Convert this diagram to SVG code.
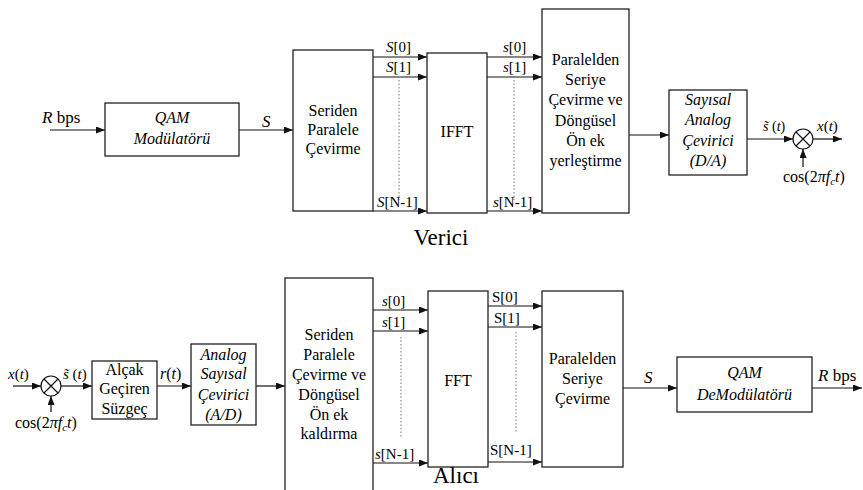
<svg xmlns="http://www.w3.org/2000/svg" width="863" height="490" viewBox="0 0 863 490">
<style>
text, tspan{font-family:"Liberation Serif", "Times New Roman", Times, "DejaVu Serif", serif}
text{fill:#000}
.bx{fill:#fff;stroke:#222;stroke-width:1.3}
.t{font-size:16px;text-anchor:middle}
.i{font-style:italic}
.lb{font-size:15px}
.ar{stroke:#111;stroke-width:1.2;fill:none;marker-end:url(#ah)}
.dt{stroke:#777;stroke-width:1;stroke-dasharray:1.5 2;fill:none}
.big{font-size:23px}
</style>
<defs>
<marker id="ah" markerUnits="userSpaceOnUse" markerWidth="9" markerHeight="7" refX="9" refY="3.5" orient="auto">
<path d="M0,0 L9,3.5 L0,7 z" fill="#111"/>
</marker>
</defs>

<g id="connectors">
<line class="ar" x1="50" y1="130" x2="105" y2="130"/>
<line class="ar" x1="239" y1="130" x2="293" y2="130"/>
<line class="ar" x1="373" y1="57" x2="427" y2="57"/>
<line class="ar" x1="373" y1="77" x2="427" y2="77"/>
<line class="ar" x1="373" y1="211" x2="427" y2="211"/>
<line class="dt" x1="399" y1="80" x2="399" y2="200"/>
<line class="ar" x1="487" y1="57" x2="542" y2="57"/>
<line class="ar" x1="487" y1="77" x2="542" y2="77"/>
<line class="ar" x1="487" y1="211" x2="542" y2="211"/>
<line class="dt" x1="514" y1="80" x2="514" y2="200"/>
<line class="ar" x1="629" y1="135" x2="669" y2="135"/>
<line class="ar" x1="747" y1="139" x2="793" y2="139"/>
<line class="ar" x1="813" y1="139" x2="842" y2="139"/>
<line class="ar" x1="803" y1="167" x2="803" y2="149"/>
<line class="ar" x1="13" y1="386" x2="41" y2="386"/>
<line class="ar" x1="51" y1="412" x2="51" y2="396"/>
<line class="ar" x1="61" y1="386" x2="92" y2="386"/>
<line class="ar" x1="157" y1="386" x2="191" y2="386"/>
<line class="ar" x1="256" y1="386" x2="285" y2="386"/>
<line class="ar" x1="373" y1="310" x2="428" y2="310"/>
<line class="ar" x1="373" y1="331" x2="428" y2="331"/>
<line class="ar" x1="373" y1="463" x2="428" y2="463"/>
<line class="dt" x1="401" y1="337" x2="401" y2="437"/>
<line class="ar" x1="488" y1="306" x2="542" y2="306"/>
<line class="ar" x1="488" y1="327" x2="542" y2="327"/>
<line class="ar" x1="488" y1="462" x2="542" y2="462"/>
<line class="dt" x1="516" y1="332" x2="516" y2="432"/>
<line class="ar" x1="623" y1="388" x2="677" y2="388"/>
<line class="ar" x1="812" y1="388" x2="862" y2="388"/>
</g>

<g id="labels">
<text x="42" y="123" font-size="17"><tspan class="i">R</tspan> bps</text>
<text x="262" y="127" font-size="17" class="i">S</text>
<text x="386" y="52" class="lb"><tspan class="i">S</tspan>[0]</text>
<text x="386" y="72" class="lb"><tspan class="i">S</tspan>[1]</text>
<text x="377" y="207" class="lb"><tspan class="i">S</tspan>[N-1]</text>
<text x="503" y="52" class="lb"><tspan class="i">s</tspan>[0]</text>
<text x="503" y="72" class="lb"><tspan class="i">s</tspan>[1]</text>
<text x="493" y="207" class="lb"><tspan class="i">s</tspan>[N-1]</text>
<text x="763" y="131" font-size="14"><tspan class="i">s̃</tspan> (<tspan class="i">t</tspan>)</text>
<text x="817" y="131" font-size="15"><tspan class="i">x</tspan>(<tspan class="i">t</tspan>)</text>
<text x="783" y="182" font-size="16">cos(2<tspan class="i">πf</tspan><tspan class="i" font-size="11" dy="3">c</tspan><tspan class="i" dy="-3">t</tspan>)</text>
<text x="441" y="245" class="big" text-anchor="middle">Verici</text>
<text x="8" y="379" font-size="15"><tspan class="i">x</tspan>(<tspan class="i">t</tspan>)</text>
<text x="63" y="379" font-size="15"><tspan class="i">s̃</tspan> (<tspan class="i">t</tspan>)</text>
<text x="15" y="428" font-size="16">cos(2<tspan class="i">πf</tspan><tspan class="i" font-size="11" dy="3">c</tspan><tspan class="i" dy="-3">t</tspan>)</text>
<text x="160" y="379" font-size="16"><tspan class="i">r</tspan>(<tspan class="i">t</tspan>)</text>
<text x="382" y="306" class="lb"><tspan class="i">s</tspan>[0]</text>
<text x="382" y="327" class="lb"><tspan class="i">s</tspan>[1]</text>
<text x="375" y="459" class="lb"><tspan class="i">s</tspan>[N-1]</text>
<text x="492" y="302" class="lb">S[0]</text>
<text x="494" y="323" class="lb">S[1]</text>
<text x="490" y="455" class="lb">S[N-1]</text>
<text x="644" y="383" font-size="17" class="i">S</text>
<text x="818" y="381" font-size="17"><tspan class="i">R</tspan> bps</text>
<text x="456" y="483" class="big" text-anchor="middle">Alıcı</text>
</g>

<g id="qam-mod">
<rect class="bx" x="105" y="103" width="134" height="53"/>
<text class="t i" x="172" y="123">QAM</text>
<text class="t i" x="172" y="144">Modülatörü</text>
</g>
<g id="sp-tx">
<rect class="bx" x="293" y="50" width="80" height="161"/>
<text class="t" x="333" y="116">Seriden</text>
<text class="t" x="333" y="135">Paralele</text>
<text class="t" x="333" y="154">Çevirme</text>
</g>
<g id="ifft">
<rect class="bx" x="427" y="53" width="60" height="160"/>
<text class="t" x="457" y="137">IFFT</text>
</g>
<g id="ps-tx">
<rect class="bx" x="542" y="9" width="87" height="204"/>
<text class="t" x="585.5" y="65">Paralelden</text>
<text class="t" x="585.5" y="85">Seriye</text>
<text class="t" x="585.5" y="105">Çevirme ve</text>
<text class="t" x="585.5" y="125.5">Döngüsel</text>
<text class="t" x="585.5" y="146">Ön ek</text>
<text class="t" x="585.5" y="166">yerleştirme</text>
</g>
<g id="dac">
<rect class="bx" x="669" y="90" width="78" height="85"/>
<text class="t i" x="708" y="104.5">Sayısal</text>
<text class="t i" x="708" y="125">Analog</text>
<text class="t i" x="708" y="145.5">Çevirici</text>
<text class="t i" x="708" y="166">(D/A)</text>
</g>
<g id="mixer-tx">
<circle cx="803" cy="139" r="10" fill="#fff" stroke="#111" stroke-width="1.2"/>
<path d="M796,132 L810,146 M810,132 L796,146" stroke="#111" stroke-width="1.2"/>
</g>
<g id="mixer-rx">
<circle cx="51" cy="386" r="10" fill="#fff" stroke="#111" stroke-width="1.2"/>
<path d="M44,379 L58,393 M58,379 L44,393" stroke="#111" stroke-width="1.2"/>
</g>
<g id="lpf">
<rect class="bx" x="92" y="361" width="65" height="58"/>
<text class="t" x="124.5" y="375">Alçak</text>
<text class="t" x="124.5" y="394">Geçiren</text>
<text class="t" x="124.5" y="414">Süzgeç</text>
</g>
<g id="adc">
<rect class="bx" x="191" y="344" width="65" height="81"/>
<text class="t i" x="223.5" y="360">Analog</text>
<text class="t i" x="223.5" y="379">Sayısal</text>
<text class="t i" x="223.5" y="400">Çevirici</text>
<text class="t i" x="223.5" y="420">(A/D)</text>
</g>
<g id="sp-rx">
<rect class="bx" x="285" y="278" width="88" height="220"/>
<text class="t" x="329" y="340">Seriden</text>
<text class="t" x="329" y="360">Paralele</text>
<text class="t" x="329" y="380">Çevirme ve</text>
<text class="t" x="329" y="400">Döngüsel</text>
<text class="t" x="329" y="420">Ön ek</text>
<text class="t" x="329" y="439">kaldırma</text>
</g>
<g id="fft">
<rect class="bx" x="428" y="291" width="60" height="176"/>
<text class="t" x="458" y="386">FFT</text>
</g>
<g id="ps-rx">
<rect class="bx" x="542" y="291" width="81" height="176"/>
<text class="t" x="582.5" y="364">Paralelden</text>
<text class="t" x="582.5" y="384">Seriye</text>
<text class="t" x="582.5" y="404">Çevirme</text>
</g>
<g id="qam-demod">
<rect class="bx" x="677" y="357" width="135" height="55"/>
<text class="t i" x="744.5" y="378">QAM</text>
<text class="t i" x="744.5" y="400">DeModülatörü</text>
</g>
</svg>
